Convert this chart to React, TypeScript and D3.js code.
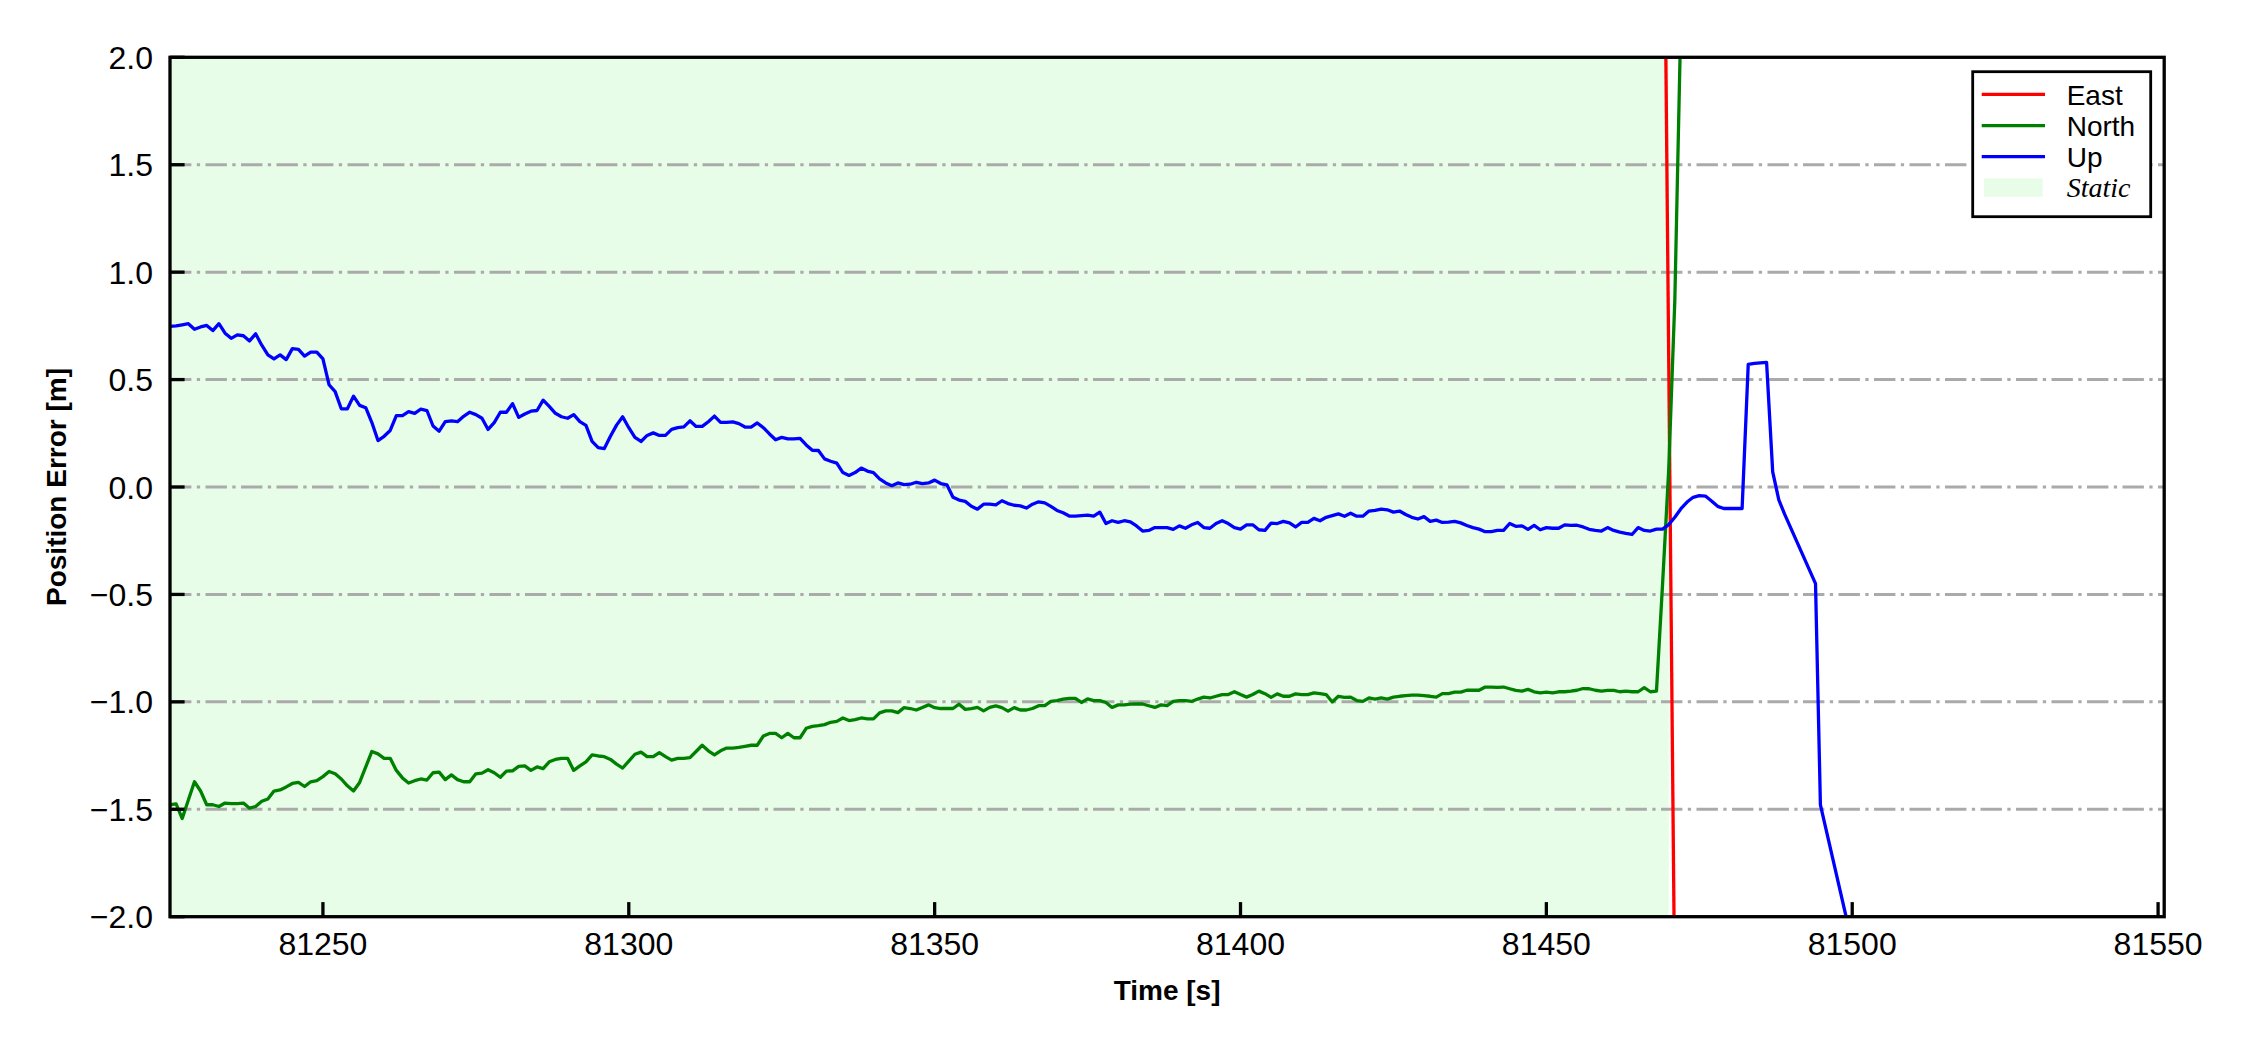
import React from "react";
import * as d3 from "d3";

const W = 2250;
const H = 1050;
const PLOT = { left: 170, right: 2164.2, top: 57.3, bottom: 916.7 };

const xDomain = [81225, 81551];
const yDomain = [-2, 2];
const xTicks = [81250, 81300, 81350, 81400, 81450, 81500, 81550];
const yTicks = [-2, -1.5, -1, -0.5, 0, 0.5, 1, 1.5, 2];
const gridValues = [-1.5, -1, -0.5, 0, 0.5, 1, 1.5];
const staticInterval = [81225, 81470];

// 1 Hz samples during the static period
const staticStart = 81225;
const upStatic = [
  0.748, 0.75, 0.755, 0.76, 0.734, 0.745, 0.752, 0.728, 0.76, 0.716,
  0.692, 0.708, 0.704, 0.68, 0.713, 0.66, 0.615, 0.596, 0.615, 0.593,
  0.644, 0.641, 0.609, 0.628, 0.628, 0.596, 0.476, 0.444, 0.364, 0.364,
  0.423, 0.38, 0.369, 0.3, 0.216, 0.236, 0.263, 0.332, 0.332, 0.351,
  0.343, 0.362, 0.356, 0.284, 0.26, 0.304, 0.308, 0.304, 0.329, 0.348,
  0.337, 0.32, 0.268, 0.3, 0.348, 0.348, 0.388, 0.324, 0.34, 0.353,
  0.356, 0.404, 0.375, 0.343, 0.327, 0.32, 0.337, 0.304, 0.287, 0.212,
  0.183, 0.179, 0.236, 0.288, 0.327, 0.276, 0.231, 0.212, 0.24, 0.252,
  0.24, 0.24, 0.268, 0.276, 0.28, 0.308, 0.282, 0.282, 0.304, 0.33,
  0.301, 0.301, 0.303, 0.295, 0.279, 0.279, 0.298, 0.276, 0.247, 0.22,
  0.231, 0.224, 0.224, 0.226, 0.196, 0.171, 0.17, 0.131, 0.12, 0.111,
  0.067, 0.054, 0.067, 0.088, 0.074, 0.067, 0.038, 0.019, 0.006, 0.019,
  0.011, 0.013, 0.022, 0.016, 0.019, 0.032, 0.016, 0.01, -0.048, -0.061,
  -0.067, -0.09, -0.103, -0.08, -0.08, -0.083, -0.064, -0.077, -0.085, -0.088,
  -0.098, -0.08, -0.069, -0.074, -0.09, -0.109, -0.12, -0.135, -0.136, -0.133,
  -0.131, -0.136, -0.117, -0.17, -0.157, -0.165, -0.157, -0.162, -0.181, -0.205,
  -0.202, -0.189, -0.189, -0.189, -0.197, -0.181, -0.192, -0.176, -0.165, -0.189,
  -0.192, -0.17, -0.157, -0.17, -0.189, -0.196, -0.176, -0.176, -0.199, -0.202,
  -0.168, -0.17, -0.16, -0.167, -0.186, -0.165, -0.165, -0.146, -0.157, -0.141,
  -0.133, -0.125, -0.136, -0.122, -0.136, -0.136, -0.112, -0.109, -0.103, -0.106,
  -0.117, -0.112, -0.128, -0.141, -0.149, -0.138, -0.16, -0.154, -0.165, -0.163,
  -0.16, -0.167, -0.179, -0.189, -0.196, -0.208, -0.208, -0.202, -0.202, -0.17,
  -0.183, -0.181, -0.197, -0.179, -0.199, -0.189, -0.192, -0.192, -0.176, -0.179,
  -0.178, -0.186, -0.197, -0.202, -0.205, -0.189, -0.202, -0.21, -0.216, -0.221,
  -0.189, -0.202, -0.205, -0.196, -0.196,
];
const northStatic = [
  -1.479, -1.475, -1.543, -1.457, -1.372, -1.415, -1.479, -1.479, -1.487, -1.471,
  -1.474, -1.474, -1.471, -1.495, -1.487, -1.463, -1.452, -1.415, -1.41, -1.396,
  -1.38, -1.375, -1.394, -1.372, -1.367, -1.348, -1.324, -1.335, -1.359, -1.391,
  -1.415, -1.375, -1.303, -1.231, -1.242, -1.263, -1.263, -1.319, -1.354, -1.378,
  -1.367, -1.359, -1.364, -1.33, -1.327, -1.362, -1.34, -1.362, -1.372, -1.372,
  -1.335, -1.332, -1.316, -1.33, -1.351, -1.322, -1.321, -1.3, -1.298, -1.319,
  -1.303, -1.311, -1.279, -1.268, -1.263, -1.263, -1.319, -1.298, -1.279, -1.247,
  -1.252, -1.255, -1.268, -1.29, -1.308, -1.276, -1.244, -1.234, -1.255, -1.255,
  -1.236, -1.255, -1.271, -1.263, -1.263, -1.26, -1.231, -1.202, -1.228, -1.247,
  -1.228, -1.215, -1.215, -1.212, -1.207, -1.202, -1.202, -1.159, -1.147, -1.147,
  -1.167, -1.147, -1.167, -1.167, -1.123, -1.114, -1.111, -1.106, -1.095, -1.091,
  -1.075, -1.087, -1.083, -1.075, -1.079, -1.079, -1.051, -1.042, -1.042, -1.05,
  -1.027, -1.031, -1.038, -1.026, -1.014, -1.027, -1.031, -1.031, -1.031, -1.011,
  -1.035, -1.031, -1.026, -1.042, -1.026, -1.019, -1.027, -1.043, -1.027, -1.038,
  -1.038, -1.031, -1.018, -1.018, -0.998, -0.994, -0.987, -0.984, -0.984, -1.003,
  -0.986, -0.994, -0.994, -1.003, -1.026, -1.014, -1.014, -1.011, -1.01, -1.01,
  -1.018, -1.026, -1.014, -1.018, -0.998, -0.994, -0.994, -0.998, -0.987, -0.978,
  -0.982, -0.974, -0.966, -0.966, -0.953, -0.966, -0.978, -0.966, -0.95, -0.962,
  -0.979, -0.963, -0.974, -0.974, -0.963, -0.966, -0.966, -0.958, -0.962, -0.966,
  -1.001, -0.974, -0.979, -0.978, -0.994, -0.998, -0.982, -0.987, -0.982, -0.987,
  -0.978, -0.974, -0.971, -0.969, -0.969, -0.971, -0.974, -0.978, -0.962, -0.962,
  -0.955, -0.955, -0.946, -0.946, -0.946, -0.931, -0.931, -0.933, -0.931, -0.939,
  -0.947, -0.95, -0.942, -0.953, -0.958, -0.955, -0.958, -0.953, -0.953, -0.95,
  -0.946, -0.938, -0.939, -0.946, -0.95, -0.947, -0.947, -0.953, -0.95, -0.953,
  -0.953, -0.934, -0.953, -0.95,
];

// After the static period
const upTailTime = [
  81470, 81471, 81472, 81473, 81474, 81475, 81476, 81477, 81478, 81479, 81480,
  81481, 81482, 81483, 81484, 81485, 81486, 81487, 81488, 81489, 81494, 81494.8,
  81499, 81501,
];
const upTailValue = [
  -0.175, -0.141, -0.101, -0.07, -0.048, -0.04, -0.042, -0.065, -0.09, -0.1, -0.1,
  -0.1, -0.1, 0.571, 0.575, 0.578, 0.58, 0.07, -0.06, -0.13, -0.45, -1.48,
  -2.0, -2.25,
];
const northTailTime = [81469, 81470, 81471, 81472];
const northTailValue = [-0.45, 0.08, 0.87, 2.2];
const eastTime = [81469, 81471];
const eastValue = [3.6, -2.4];

const seriesNames = ["East", "North", "Up"];
const seriesColors = ["#ff0000", "#008000", "#0000ff"];
const staticLabel = "Static";
const staticColor = "#e8fde8";

type Pt = [number, number];

function buildSeries(start: number, vals: number[], tailT: number[], tailV: number[]): Pt[] {
  const pts: Pt[] = vals.map((v, i) => [start + i, v] as Pt);
  tailT.forEach((t, i) => pts.push([t, tailV[i]]));
  return pts;
}

export default function App() {
  const x = d3.scaleLinear().domain(xDomain).range([PLOT.left, PLOT.right]);
  const y = d3.scaleLinear().domain(yDomain).range([PLOT.bottom, PLOT.top]);
  const line = d3
    .line<Pt>()
    .x((d) => x(d[0]))
    .y((d) => y(d[1]));

  const east: Pt[] = eastTime.map((t, i) => [t, eastValue[i]] as Pt);
  const north = buildSeries(staticStart, northStatic, northTailTime, northTailValue);
  const up = buildSeries(staticStart, upStatic, upTailTime, upTailValue);
  const data = [east, north, up];

  const fmt = d3.format(".1f");
  const tickLen = 14.6;
  const axisW = 3.3;
  const lineW = 3.3;
  const sans = "'Liberation Sans', Arial, sans-serif";

  const legX = 1972.7;
  const legY = 71.7;
  const rowYs = [94.3, 125.7, 156.7];

  return (
    <svg
      width={W}
      height={H}
      viewBox={`0 0 ${W} ${H}`}
      style={{ position: "absolute", left: 0, top: 0, background: "#fff" }}
    >
      <defs>
        <clipPath id="plotClip">
          <rect
            x={PLOT.left}
            y={PLOT.top}
            width={PLOT.right - PLOT.left}
            height={PLOT.bottom - PLOT.top}
          />
        </clipPath>
      </defs>
      <rect x={0} y={0} width={W} height={H} fill="#fff" />
      {/* static region */}
      <rect
        x={x(staticInterval[0])}
        y={PLOT.top}
        width={x(staticInterval[1]) - x(staticInterval[0])}
        height={PLOT.bottom - PLOT.top}
        fill={staticColor}
      />
      {/* grid */}
      {gridValues.map((v) => (
        <line
          key={"g" + v}
          x1={PLOT.left}
          x2={PLOT.right}
          y1={y(v)}
          y2={y(v)}
          stroke="#aaaaaa"
          strokeWidth={3}
          strokeDasharray="21.4 5.4 3.3 5.4"
        />
      ))}
      {/* lines */}
      <g clipPath="url(#plotClip)">
        {data.map((d, i) => (
          <path
            key={seriesNames[i]}
            d={line(d) || ""}
            fill="none"
            stroke={seriesColors[i]}
            strokeWidth={lineW}
            strokeLinejoin="round"
          />
        ))}
      </g>
      {/* spines */}
      <rect
        x={PLOT.left}
        y={PLOT.top}
        width={PLOT.right - PLOT.left}
        height={PLOT.bottom - PLOT.top}
        fill="none"
        stroke="#000"
        strokeWidth={axisW}
      />
      {/* x ticks */}
      {xTicks.map((t) => (
        <g key={"xt" + t}>
          <line
            x1={x(t)}
            x2={x(t)}
            y1={PLOT.bottom}
            y2={PLOT.bottom - tickLen}
            stroke="#000"
            strokeWidth={axisW}
          />
          <text
            x={x(t)}
            y={955}
            textAnchor="middle"
            fontFamily={sans}
            fontSize={32}
            fill="#000"
          >
            {t}
          </text>
        </g>
      ))}
      {/* y ticks */}
      {yTicks.map((v) => (
        <g key={"yt" + v}>
          <line
            x1={PLOT.left}
            x2={PLOT.left + tickLen}
            y1={y(v)}
            y2={y(v)}
            stroke="#000"
            strokeWidth={axisW}
          />
          <text
            x={153}
            y={y(v) + 11.5}
            textAnchor="end"
            fontFamily={sans}
            fontSize={32}
            fill="#000"
          >
            {fmt(v)}
          </text>
        </g>
      ))}
      {/* axis titles */}
      <text
        x={(PLOT.left + PLOT.right) / 2}
        y={1000}
        textAnchor="middle"
        fontFamily={sans}
        fontWeight="bold"
        fontSize={28}
        fill="#000"
      >
        Time [s]
      </text>
      <text
        transform={`translate(65.5, ${(PLOT.top + PLOT.bottom) / 2}) rotate(-90)`}
        textAnchor="middle"
        fontFamily={sans}
        fontWeight="bold"
        fontSize={28}
        fill="#000"
      >
        Position Error [m]
      </text>
      {/* legend */}
      <rect
        x={legX}
        y={legY}
        width={178}
        height={145}
        fill="#fff"
        stroke="#000"
        strokeWidth={2.8}
      />
      {seriesNames.map((n, i) => (
        <g key={"leg" + n}>
          <line
            x1={1981.7}
            x2={2045}
            y1={rowYs[i]}
            y2={rowYs[i]}
            stroke={seriesColors[i]}
            strokeWidth={lineW}
          />
          <text
            x={2066.7}
            y={rowYs[i] + 10.5}
            fontFamily={sans}
            fontSize={28}
            fill="#000"
          >
            {n}
          </text>
        </g>
      ))}
      <rect x={1984} y={178.3} width={58.7} height={18.4} fill={staticColor} />
      <text
        x={2066.7}
        y={197.3}
        fontFamily="'Liberation Serif', 'Times New Roman', serif"
        fontStyle="italic"
        fontSize={28}
        fill="#000"
      >
        {staticLabel}
      </text>
    </svg>
  );
}
